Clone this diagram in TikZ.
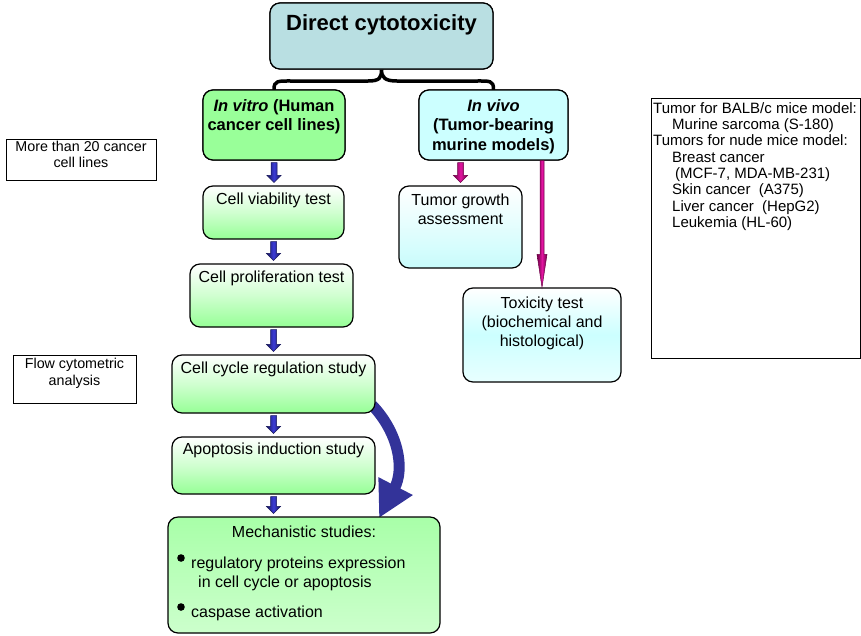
\documentclass[tikz,border=0pt]{standalone}
\usepackage{fontspec}
\setmainfont{Liberation Sans}
\usetikzlibrary{calc,arrows.meta}
\definecolor{topfill}{RGB}{185,223,226}
\definecolor{vitrofill}{RGB}{153,255,153}
\definecolor{vivofill}{RGB}{204,255,255}
\definecolor{gbot}{RGB}{150,255,150}
\definecolor{cyanmid}{RGB}{200,252,252}
\definecolor{bigblue}{RGB}{51,51,153}
\definecolor{navyedge}{RGB}{20,20,90}
\definecolor{navymid}{RGB}{60,60,215}
\definecolor{magedge}{RGB}{110,0,70}
\definecolor{magmid}{RGB}{225,20,160}
\newcommand\fs[2]{\fontsize{#1}{#2}\selectfont}
\begin{document}
\begin{tikzpicture}[x=1pt,y=-1pt,
  box/.style={draw=black, line width=1.2pt, rounded corners=10pt, inner sep=0pt},
  plainbox/.style={draw=black, line width=1pt, inner sep=0pt},
  txt/.style={inner sep=0pt, anchor=north, align=center, font=\fs{16}{19}},
  btxt/.style={inner sep=0pt, anchor=north, align=center, font=\fs{16.5}{19.5}\bfseries},
  stxt/.style={inner sep=0pt, anchor=north, align=center, font=\fs{14.3}{16.5}},
  greenbox/.style={box, top color=white, bottom color=gbot, middle color=white!55!gbot},
  cyanbox/.style={box, top color=white, bottom color=cyanmid},
  blockarr/.style n args={3}{to path={
    ($(\tikztostart)+(-#1,0)$) -- ($(\tikztostart)+(#1,0)$) --
    ($(\tikztotarget)+(#1,-#3)$) -- ($(\tikztotarget)+(#2,-#3)$) --
    (\tikztotarget) -- ($(\tikztotarget)+(-#2,-#3)$) --
    ($(\tikztotarget)+(-#1,-#3)$) -- cycle}},
  bluearr/.style={blockarr={3}{7}{7}, draw=navyedge, line width=0.5pt,
    left color=navyedge, right color=navyedge, middle color=navymid},
  magarr/.style={blockarr={3}{7}{7}, draw=magedge, line width=0.5pt,
    left color=magedge, right color=magedge, middle color=magmid},
  longarr/.style={blockarr={2}{5}{33}, draw=magedge, line width=0.5pt,
    left color=magedge, right color=magedge, middle color=magmid},
  bracepath/.style={draw=black, line width=3.5pt, line cap=round},
  bigarrow/.style={draw=bigblue, line width=11pt,
    -{Triangle[length=36pt,width=36pt]}}
]
\useasboundingbox (0,0) rectangle (861,635);

% boxes (empty shapes, text placed separately)
\node[box, fill=topfill, minimum width=223pt, minimum height=66pt] (top) at (381.5,36) {};
\node[box, fill=vitrofill, minimum width=142pt, minimum height=70pt] (invitro) at (274,125) {};
\node[box, fill=vivofill, minimum width=149pt, minimum height=70pt] (invivo) at (493.5,125) {};

% brace
\draw[bracepath] (invitro.north) .. controls +(0,-9) and +(-14,0) .. (292,81)
  -- (368,81) .. controls +(12,0) and +(0,8) .. (top.south)
  .. controls +(0,8) and +(-12,0) .. (397,81)
  -- (476,81) .. controls +(14,0) and +(0,-9) .. (invivo.north);
% redraw top boxes over the brace ends
\node[box, fill=topfill, minimum width=223pt, minimum height=66pt] at (381.5,36) {};
\node[box, fill=vitrofill, minimum width=142pt, minimum height=70pt] at (274,125) {};
\node[box, fill=vivofill, minimum width=149pt, minimum height=70pt] at (493.5,125) {};

% big curved arrow (drawn beneath boxes)
\coordinate (bigtip) at (379,518);
\draw[bigarrow] (372,405) .. controls (398,432) and (405,468) .. (bigtip);

\node[greenbox, minimum width=141pt, minimum height=53pt] (viab) at (273.5,212.5) {};
\node[greenbox, minimum width=163pt, minimum height=63pt] (prolif) at (271.5,295.5) {};
\node[greenbox, minimum width=203pt, minimum height=58pt] (cycle) at (273.5,384) {};
\node[greenbox, minimum width=203pt, minimum height=57pt] (apop) at (273.5,465.5) {};
\node[box, top color=vitrofill!85!white, bottom color=vitrofill!50!white, minimum width=272pt, minimum height=116pt] (mech) at (304,575) {};

\node[cyanbox, minimum width=123pt, minimum height=82pt] (growth) at (460.5,227) {};
\node[box, top color=white, bottom color=vivofill!45!white, middle color=vivofill, minimum width=158pt, minimum height=94pt] (tox) at (542,335) {};

\node[plainbox, minimum width=209pt, minimum height=260pt] (models) at (755.5,228) {};
\node[plainbox, minimum width=150pt, minimum height=41pt] (lines) at (81,159.5) {};
\node[plainbox, minimum width=123pt, minimum height=48pt] (flow) at (74.5,379) {};

% texts
\node[inner sep=0pt, anchor=north, font=\fs{22}{26}\bfseries] (topT) at ($(top.north)+(0,10)$) {\strut Direct cytotoxicity};
\node[btxt] (invitroT) at ($(invitro.north)+(0,8)$) {\strut\textit{In vitro} (Human\\cancer cell lines)};
\node[btxt] (invivoT) at ($(invivo.north)+(0,8)$) {\strut\textit{In vivo}\\(Tumor-bearing\\murine models)};
\node[txt] (viabT) at ($(viab.north)+(0,5.7)$) {\strut Cell viability test};
\node[txt] (prolifT) at ($(prolif.north)+(0,5.7)$) {\strut Cell proliferation test};
\node[txt] (cycleT) at ($(cycle.north)+(0,5.7)$) {\strut Cell cycle regulation study};
\node[txt] (apopT) at ($(apop.north)+(0,4.7)$) {\strut Apoptosis induction study};
\node[txt] (mechT) at ($(mech.north)+(0,7.7)$) {\strut Mechanistic studies:};
\node[txt, anchor=north west, align=left] (mech1) at (191,554.7) {\strut regulatory proteins expression\\\hspace{7pt}in cell cycle or apoptosis};
\node[txt, anchor=north west, align=left] (mech2) at (191,603.7) {\strut caspase activation};
\fill (181,558) circle (3.8pt);
\fill (181,607) circle (3.8pt);
\node[txt] (growthT) at ($(growth.north)+(0,6.7)$) {\strut Tumor growth\\assessment};
\node[txt] (toxT) at ($(tox.north)+(0,7.7)$) {\strut Toxicity test\\(biochemical and\\histological)};
\node[inner sep=0pt, anchor=north west, align=left, font=\fs{15}{16.3}] (modelsT) at (653,101.6)
  {\strut Tumor for BALB/c mice model:\\
   \hspace{19pt}Murine sarcoma (S-180)\\
   Tumors for nude mice model:\\
   \hspace{19pt}Breast cancer\\
   \hspace{22pt}(MCF-7, MDA-MB-231)\\
   \hspace{19pt}Skin cancer\ \ (A375)\\
   \hspace{19pt}Liver cancer\ \ (HepG2)\\
   \hspace{19pt}Leukemia (HL-60)};
\node[stxt] (linesT) at ($(lines.north)+(0,1.1)$) {\strut More than 20 cancer\\cell lines};
\node[stxt] (flowT) at ($(flow.north)+(0,2.5)$) {\strut Flow cytometric\\analysis};

% block arrows
\draw[bluearr] ($(invitro.south)+(0,2)$) to ($(invitro.south |- viab.north)+(0,-3)$);
\draw[bluearr] ($(viab.south)+(0,2)$) to ($(viab.south |- prolif.north)+(0,-3)$);
\draw[bluearr] ($(viab.south |- prolif.south)+(0,2)$) to ($(viab.south |- cycle.north)+(0,-3)$);
\draw[bluearr] ($(cycle.south)+(0,2)$) to ($(cycle.south |- apop.north)+(0,-3)$);
\draw[bluearr] ($(apop.south)+(0,2)$) to ($(apop.south |- mech.north)+(0,-3)$);
\draw[magarr] ($(growth.north |- invivo.south)+(0,2)$) to ($(growth.north)+(0,-3)$);
\draw[longarr] (tox.north |- invivo.south) to (tox.north);
\end{tikzpicture}
\end{document}
